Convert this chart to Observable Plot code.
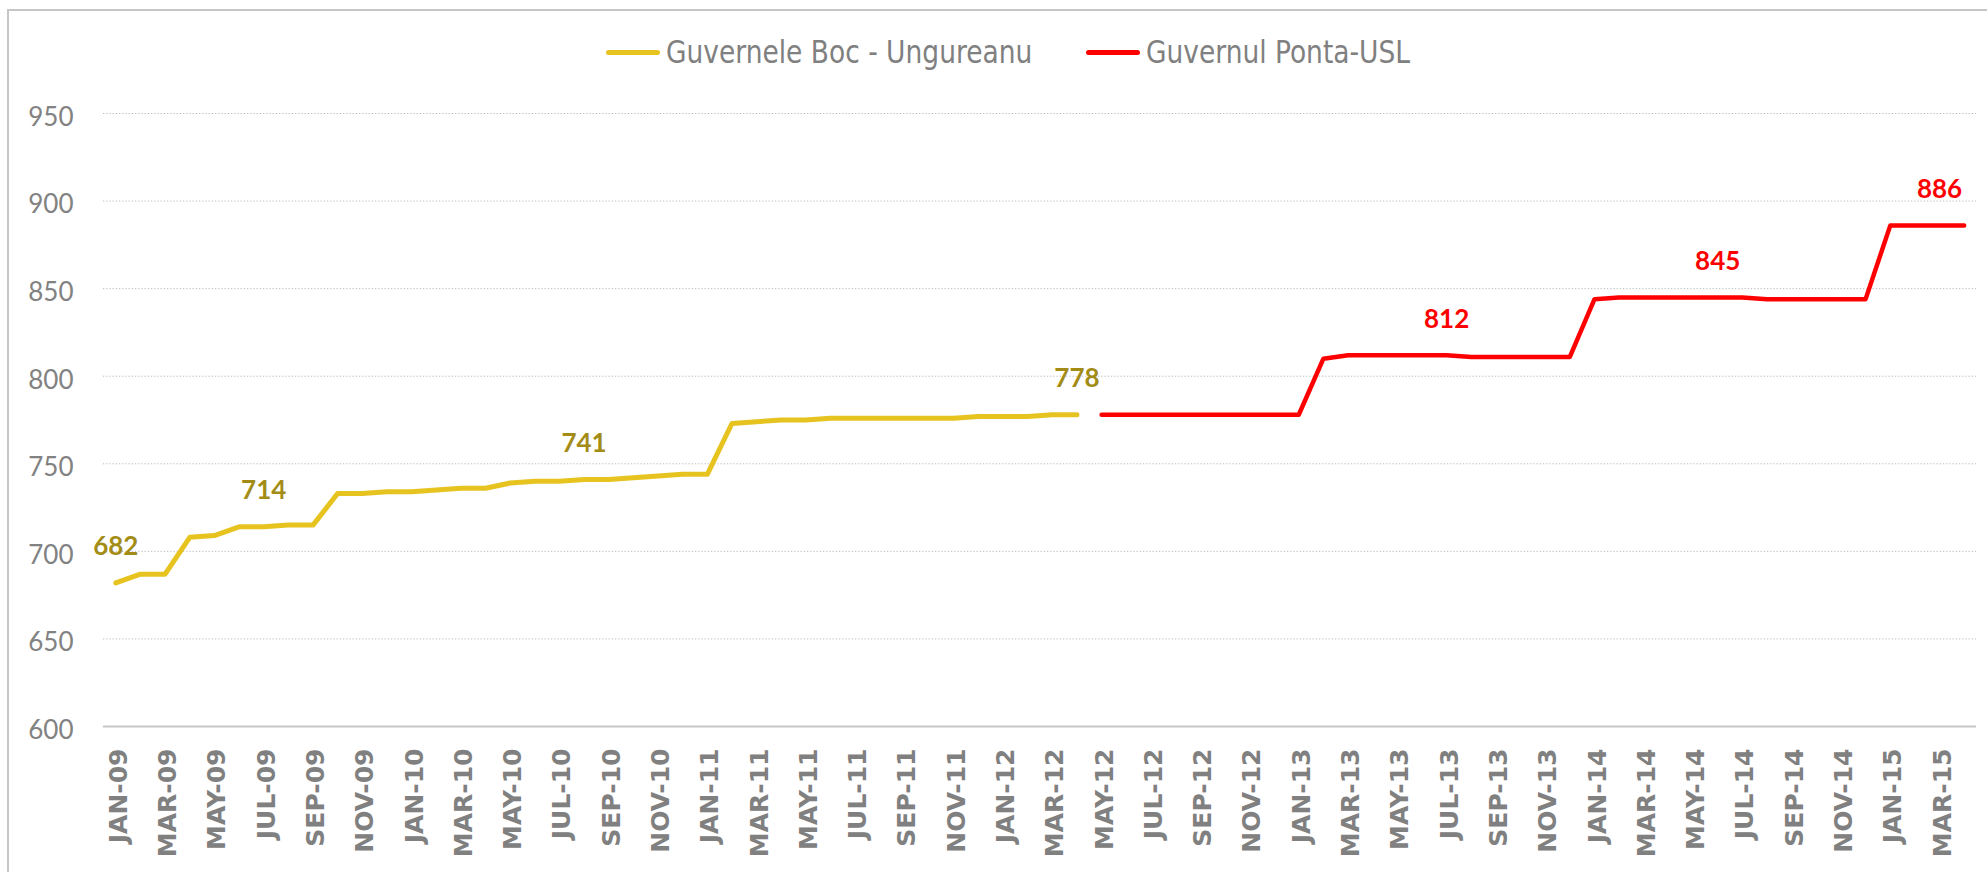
<!DOCTYPE html>
<html>
<head>
<meta charset="utf-8">
<script src="https://cdn.jsdelivr.net/npm/d3@7"></script>
<script src="https://cdn.jsdelivr.net/npm/@observablehq/plot@0.6"></script>
<style>
  html, body { margin: 0; padding: 0; background: #fff; }
  body { width: 1987px; height: 872px; position: relative; overflow: hidden; }
  #frame { position: absolute; left: 7px; top: 9px; width: 1990px; height: 900px;
           border-left: 2px solid #c6c6c6; border-top: 2px solid #c6c6c6; pointer-events: none; }
  #legend { position: relative; height: 90px; width: 1987px; }
  .item { position: absolute; top: 33px; height: 38px; display: flex; align-items: center; }
  .sw { width: 54px; height: 5px; border-radius: 3px; margin-right: 6px; flex: none; }
  .lt { font-family: "Liberation Sans Narrow", "DejaVu Sans Condensed", "Roboto", sans-serif;
        font-stretch: condensed; font-size: 32px; color: #808080; white-space: nowrap;
        display: inline-block; transform: scaleX(0.92); transform-origin: left center; }
  #chart svg { display: block; }
</style>
</head>
<body>
<div id="legend"></div>
<div id="chart"></div>
<div id="frame"></div>
<script>
// Months (categories)
const months = [
  "JAN-09","FEB-09","MAR-09","APR-09","MAY-09","JUN-09","JUL-09","AUG-09","SEP-09","OCT-09","NOV-09","DEC-09",
  "JAN-10","FEB-10","MAR-10","APR-10","MAY-10","JUN-10","JUL-10","AUG-10","SEP-10","OCT-10","NOV-10","DEC-10",
  "JAN-11","FEB-11","MAR-11","APR-11","MAY-11","JUN-11","JUL-11","AUG-11","SEP-11","OCT-11","NOV-11","DEC-11",
  "JAN-12","FEB-12","MAR-12","APR-12","MAY-12","JUN-12","JUL-12","AUG-12","SEP-12","OCT-12","NOV-12","DEC-12",
  "JAN-13","FEB-13","MAR-13","APR-13","MAY-13","JUN-13","JUL-13","AUG-13","SEP-13","OCT-13","NOV-13","DEC-13",
  "JAN-14","FEB-14","MAR-14","APR-14","MAY-14","JUN-14","JUL-14","AUG-14","SEP-14","OCT-14","NOV-14","DEC-14",
  "JAN-15","FEB-15","MAR-15","APR-15"
];
// Series names
const seriesNames = ["Guvernele Boc - Ungureanu", "Guvernul Ponta-USL"];
const seriesColors = ["#e6c31f", "#ff0000"];
const labelColors = ["#a38c16", "#ff0000"];
// Boc - Ungureanu: JAN-09 .. APR-12
const bocMonths = months.slice(0, 40);
const bocValues = [682,687,687,708,709,714,714,715,715,733,733,734,
                   734,735,736,736,739,740,740,741,741,742,743,744,
                   744,773,774,775,775,776,776,776,776,776,776,777,
                   777,777,778,778];
// Ponta-USL: MAY-12 .. APR-15
const pontaMonths = months.slice(40);
const pontaValues = [778,778,778,778,778,778,778,778,
                     778,810,812,812,812,812,812,811,811,811,811,811,
                     844,845,845,845,845,845,845,844,844,844,844,844,
                     886,886,886,886];
// Annotated points
const labelMonths = ["JAN-09","JUL-09","AUG-10","APR-12","JUL-13","JUN-14","MAR-15"];
const labelValues = [682,714,741,778,812,845,886];
const labelSeries = [0,0,0,0,1,1,1];
// Axis ticks
const yTicks = [600,650,700,750,800,850,900,950];
const xTicks = months.filter((d, i) => i % 2 === 0);

const boc = bocMonths.map((m, i) => ({month: m, value: bocValues[i]}));
const ponta = pontaMonths.map((m, i) => ({month: m, value: pontaValues[i]}));
const labels = labelMonths.map((m, i) => ({month: m, value: labelValues[i], s: labelSeries[i]}));

// Legend
const legend = document.getElementById("legend");
const legendLeft = [606, 1086];
seriesNames.forEach((name, i) => {
  const it = document.createElement("div");
  it.className = "item";
  it.style.left = legendLeft[i] + "px";
  it.innerHTML = `<div class="sw" style="background:${seriesColors[i]}"></div><span class="lt">${name}</span>`;
  legend.appendChild(it);
});

const chart = Plot.plot({
  width: 1987,
  height: 782,
  marginLeft: 103,
  marginRight: 11,
  marginTop: 23,
  marginBottom: 146,
  style: {background: "transparent"},
  x: {type: "point", domain: months, padding: 0.5, label: null},
  y: {domain: [600, 950], label: null},
  marks: [
    Plot.gridY(yTicks.slice(1), {stroke: "#b8b8b8", strokeOpacity: 1, strokeWidth: 1, strokeDasharray: "1.2,2"}),
    Plot.ruleY([600], {stroke: "#c6c6c6", strokeWidth: 2}),
    Plot.axisY({ticks: yTicks, tickSize: 0, tickPadding: 30, fontSize: 26, fontWeight: 400,
                fontFamily: "Lato, 'Open Sans', sans-serif",
                fill: "#828282", dy: 4, label: null}),
    Plot.axisX({ticks: xTicks, tickSize: 0, tickPadding: 22, tickRotate: -90, fontSize: 25, fontWeight: "bold",
                fontFamily: "'DejaVu Sans', sans-serif", fill: "#808080", dx: 3, label: null}),
    Plot.line(boc, {x: "month", y: "value", stroke: seriesColors[0], strokeWidth: 5, strokeLinecap: "round", strokeLinejoin: "round"}),
    Plot.line(ponta, {x: "month", y: "value", stroke: seriesColors[1], strokeWidth: 4.5, strokeLinecap: "round", strokeLinejoin: "round"}),
    Plot.text(labels, {x: "month", y: "value", text: d => String(d.value), dy: -36,
                       fill: d => labelColors[d.s], fontSize: 26, fontWeight: "bold",
                       fontFamily: "Lato, 'Open Sans', sans-serif"})
  ]
});
document.getElementById("chart").appendChild(chart);
</script>
</body>
</html>
